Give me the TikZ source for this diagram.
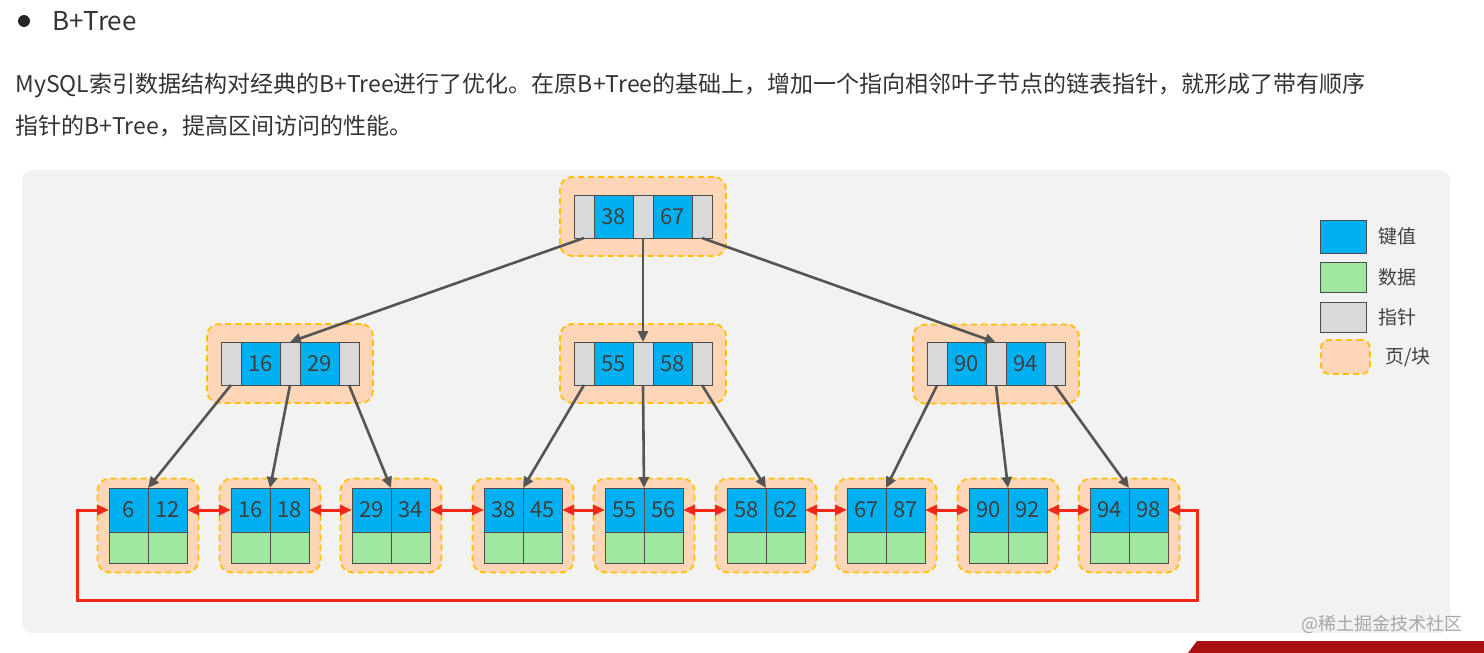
\documentclass[tikz,border=0pt]{standalone}
\usepackage{fontspec}
\setmainfont{Noto Sans CJK SC}
\usepackage{xcolor}
\usepackage{tikz}
\usetikzlibrary{positioning, arrows.meta}
\definecolor{keyblue}{RGB}{0,176,240}
\definecolor{datagreen}{RGB}{160,232,160}
\definecolor{ptrgray}{RGB}{217,217,217}
\definecolor{pagefill}{RGB}{252,214,182}
\definecolor{pagedash}{RGB}{255,192,0}
\definecolor{panelgray}{RGB}{242,242,242}
\definecolor{linkred}{RGB}{240,40,24}
\definecolor{arrowgray}{RGB}{85,85,85}
\definecolor{txtgray}{RGB}{51,51,51}
\definecolor{bannerred}{RGB}{170,16,16}

\tikzset{
  cell/.style={draw=black!70, line width=0.5pt, inner sep=0pt, outer sep=0pt,
    minimum height=21.5pt, font=\fontsize{11}{12}\selectfont, text=black!75},
  keycell/.style={cell, fill=keyblue, minimum width=19.5pt},
  ptrcell/.style={cell, fill=ptrgray, minimum width=10pt},
  leafkey/.style={cell, fill=keyblue, minimum width=19.5pt, minimum height=22pt},
  leafdata/.style={cell, fill=datagreen, minimum width=19.5pt, minimum height=15.5pt},
  pagebox/.style={draw=pagedash, fill=pagefill, line width=0.9pt, dash pattern=on 3pt off 2pt,
    rounded corners=6pt, inner sep=0pt, minimum width=83pt, minimum height=39.5pt},
  leafpage/.style={pagebox, minimum width=50.5pt, minimum height=47pt},
  ptr/.style={draw=arrowgray, line width=1.3pt, -{Triangle[length=5.5pt,width=5pt]}},
  link/.style={draw=linkred, line width=1.5pt,
    {Triangle[length=6pt,width=5pt]}-{Triangle[length=6pt,width=5pt]}},
  legendtext/.style={inner sep=0pt, text=black!75, font=\fontsize{9.5}{11}\selectfont},
}

\begin{document}
\begin{tikzpicture}[x=0.5pt, y=-0.5pt]
\useasboundingbox (0,0) rectangle (1484,653);
\node[circle, fill=black!85, inner sep=0pt, minimum size=6pt] (bullet) at (24,21) {};
\node[anchor=base west, inner sep=0pt, text=txtgray, font=\fontsize{13}{15}\selectfont] (title) at (52,31) {B+Tree};
\node[anchor=base west, inner sep=0pt, text=txtgray, font=\fontsize{11.5}{14}\selectfont] (intro1) at (15,92)
  {MySQL索引数据结构对经典的B+Tree进行了优化。在原B+Tree的基础上，增加一个指向相邻叶子节点的链表指针，就形成了带有顺序};
\node[anchor=base west, inner sep=0pt, text=txtgray, font=\fontsize{11.5}{14}\selectfont] (intro2) at (15,134)
  {指针的B+Tree，提高区间访问的性能。};

\fill[panelgray, rounded corners=5pt] (22,170) rectangle (1450,633);

\foreach \nm/\cx/\cy/\ka/\kb in {r/643/216.5/38/67, a/290/363.5/16/29, b/643/363.5/55/58, c/996/364/90/94} {
  \node[pagebox] (\nm-pg) at (\cx,\cy) {};
  \node[ptrcell] (\nm-p1) at (\cx,\cy) {};
  \node[keycell, left=0pt of \nm-p1] (\nm-k1) {\ka};
  \node[ptrcell, left=0pt of \nm-k1] (\nm-p0) {};
  \node[keycell, right=0pt of \nm-p1] (\nm-k2) {\kb};
  \node[ptrcell, right=0pt of \nm-k2] (\nm-p2) {};
}

\foreach \i/\cx/\ka/\kb in {1/148/6/12, 2/270/16/18, 3/391/29/34, 4/523/38/45, 5/644/55/56,
    6/766/58/62, 7/886/67/87, 8/1008/90/92, 9/1129/94/98} {
  \node[leafpage] (l\i-pg) at (\cx,525.5) {};
  \coordinate (l\i-top) at (\cx,488);
  \node[leafkey, anchor=north east] (l\i-k1) at (l\i-top) {\ka};
  \node[leafkey, anchor=north west] (l\i-k2) at (l\i-top) {\kb};
  \node[leafdata, below=0pt of l\i-k1] (l\i-d1) {};
  \node[leafdata, below=0pt of l\i-k2] (l\i-d2) {};
}

\draw[ptr] (r-p0.south) -- (a-p1.north);
\draw[ptr] (r-p1.south) -- (b-p1.north);
\draw[ptr] (r-p2.south) -- (c-p1.north);
\draw[ptr] (a-p0.south) -- (l1-top);
\draw[ptr] (a-p1.south) -- (l2-top);
\draw[ptr] (a-p2.south) -- (l3-top);
\draw[ptr] (b-p0.south) -- (l4-top);
\draw[ptr] (b-p1.south) -- (l5-top);
\draw[ptr] (b-p2.south) -- (l6-top);
\draw[ptr] (c-p0.south) -- (l7-top);
\draw[ptr] (c-p1.south) -- (l8-top);
\draw[ptr] (c-p2.south) -- (l9-top);

\foreach \i/\j in {1/2, 2/3, 3/4, 4/5, 5/6, 6/7, 7/8, 8/9}
  \draw[link] (l\i-k2.east) -- (l\j-k1.west);
\coordinate (loopL) at (77,600);
\coordinate (loopR) at (1197,600);
\draw[link] (l1-k1.west) -- (l1-k1.west -| loopL) -- (loopL) -- (loopR)
  -- (l9-k2.east -| loopR) -- (l9-k2.east);

\node[keycell, minimum width=23pt, minimum height=16.5pt, anchor=north west] (leg-key) at (1320,220) {};
\node[legendtext, right=6pt of leg-key] (leg-key-t) {键值};
\node[leafdata, minimum width=23pt, minimum height=15pt, anchor=north west] (leg-data) at (1320,262) {};
\node[legendtext, right=6pt of leg-data] (leg-data-t) {数据};
\node[ptrcell, minimum width=23pt, minimum height=15pt, anchor=north west] (leg-ptr) at (1320,302) {};
\node[legendtext, right=6pt of leg-ptr] (leg-ptr-t) {指针};
\node[pagebox, rounded corners=4pt, minimum width=24.5pt, minimum height=17pt, anchor=north west] (leg-page) at (1320,339) {};
\node[legendtext, right=7pt of leg-page] (leg-page-t) {页/块};

\node[anchor=east, inner sep=0pt, text=black!35, font=\fontsize{9}{11}\selectfont] (mark) at (1463,624) {@稀土掘金技术社区};
\fill[bannerred] (1188,653) -- (1197,641) -- (1484,641) -- (1484,653) -- cycle;
\end{tikzpicture}
\end{document}
